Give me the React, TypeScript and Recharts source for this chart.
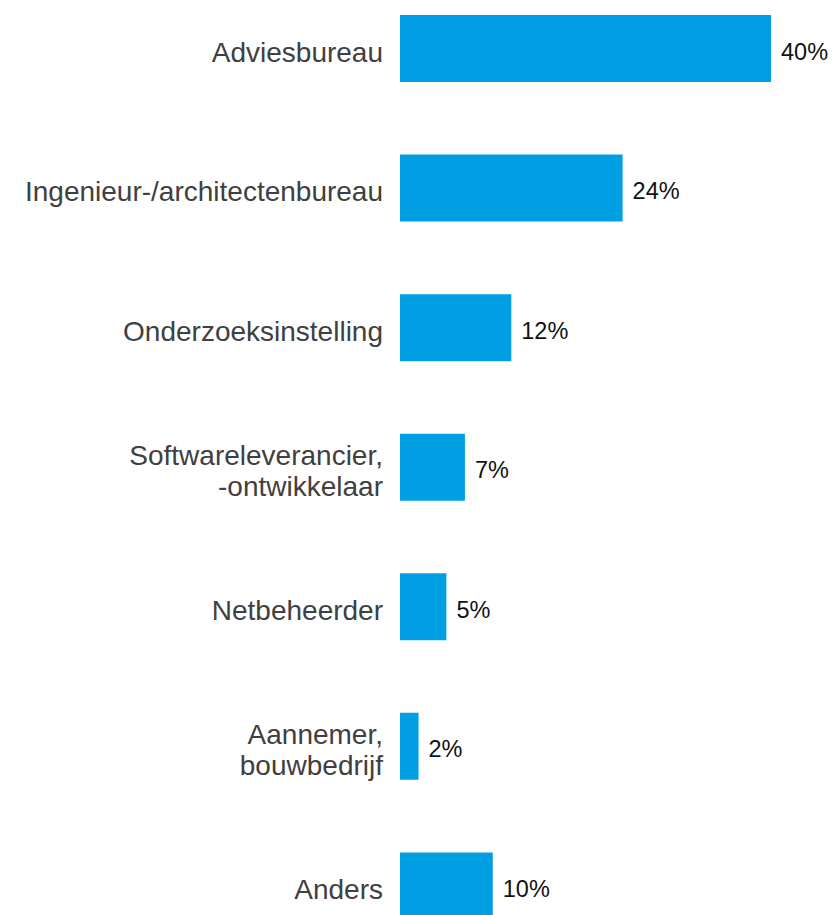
import React from 'react';
import { BarChart, Bar, XAxis, YAxis, LabelList } from 'recharts';

const categories = [
  'Adviesbureau',
  'Ingenieur-/architectenbureau',
  'Onderzoeksinstelling',
  'Softwareleverancier,\n-ontwikkelaar',
  'Netbeheerder',
  'Aannemer,\nbouwbedrijf',
  'Anders',
];
const shares = [40, 24, 12, 7, 5, 2, 10];

const data = categories.map((name, i) => ({ name, value: shares[i] }));

const font = '"Liberation Sans", Arial, sans-serif';

function CategoryTick(props: any) {
  const { x, y, payload } = props;
  const lines = String(payload.value).split('\n');
  const lineHeight = 31;
  const start = -((lines.length - 1) * lineHeight) / 2;
  return (
    <text x={x} y={y} textAnchor="end" fill="#404040" fontSize={28} fontFamily={font}>
      {lines.map((line, i) => (
        <tspan key={i} x={x} dy={i === 0 ? start + 13 : lineHeight}>
          {line}
        </tspan>
      ))}
    </text>
  );
}

function ValueLabel(props: any) {
  const { x, y, width, height, value } = props;
  return (
    <text
      x={x + width + 10}
      y={y + height / 2 + 11}
      fill="#111"
      fontSize={23.5}
      fontFamily={font}
    >
      {`${value}%`}
    </text>
  );
}

export default function App() {
  return (
    <div style={{ position: 'absolute', left: 0, top: 0, width: 833, height: 915, overflow: 'hidden', background: '#fff' }}>
      <div style={{ position: 'absolute', left: 0, top: -21 }}>
        <BarChart
          width={833}
          height={977}
          data={data}
          layout="vertical"
          margin={{ top: 0, right: 62, bottom: 0, left: 0 }}
          barCategoryGap={0}
        >
          <XAxis type="number" domain={[0, 40]} hide />
          <YAxis
            type="category"
            dataKey="name"
            width={400}
            axisLine={false}
            tickLine={false}
            tickSize={0}
            tickMargin={17}
            interval={0}
            tick={<CategoryTick />}
          />
          <Bar dataKey="value" fill="#009FE3" barSize={67} isAnimationActive={false}>
            <LabelList dataKey="value" content={<ValueLabel />} />
          </Bar>
        </BarChart>
      </div>
    </div>
  );
}
